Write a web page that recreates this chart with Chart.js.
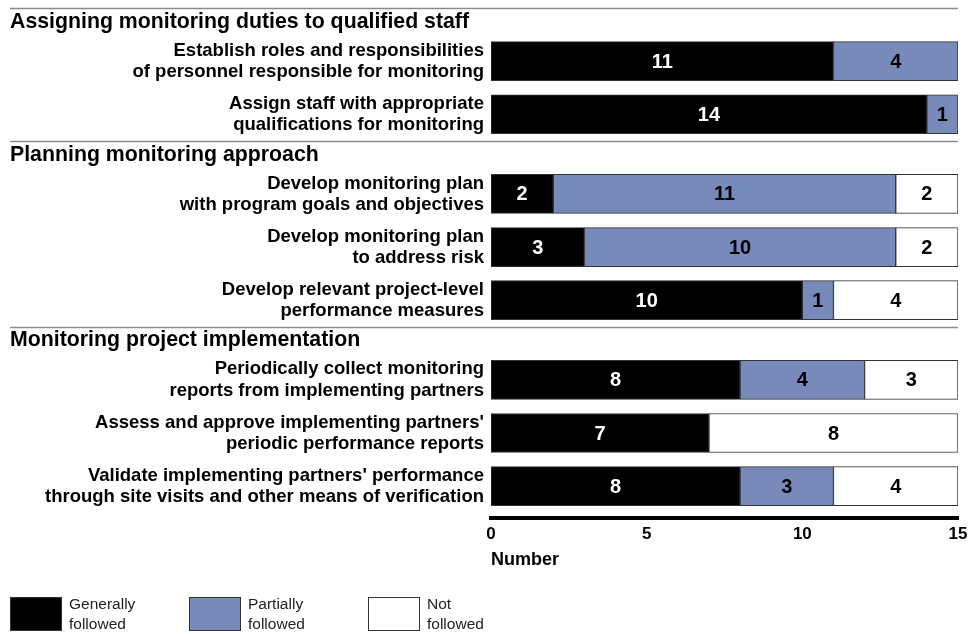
<!DOCTYPE html>
<html>
<head>
<meta charset="utf-8">
<script src="https://cdn.jsdelivr.net/npm/chart.js@4/dist/chart.umd.min.js"></script>
<style>
  html, body { margin: 0; padding: 0; background: #fff; }
  #wrap { width: 969px; height: 634px; position: relative; }
</style>
</head>
<body>
<div id="wrap"><canvas id="chart"></canvas></div>
<script>
// group headings
const groups = [
    'Assigning monitoring duties to qualified staff',
    'Planning monitoring approach',
    'Monitoring project implementation'
];

// each practice, as two label lines, and the group it belongs to
const categories = [
    ['Establish roles and responsibilities', 'of personnel responsible for monitoring'],
    ['Assign staff with appropriate', 'qualifications for monitoring'],
    ['Develop monitoring plan', 'with program goals and objectives'],
    ['Develop monitoring plan', 'to address risk'],
    ['Develop relevant project-level', 'performance measures'],
    ['Periodically collect monitoring', 'reports from implementing partners'],
    ['Assess and approve implementing partners\'', 'periodic performance reports'],
    ['Validate implementing partners\' performance', 'through site visits and other means of verification']
];
const categoryGroup = [0, 0, 1, 1, 1, 2, 2, 2];

const generallyFollowed = [11, 14, 2, 3, 10, 8, 7, 8];
const partiallyFollowed = [4, 1, 11, 10, 1, 4, 0, 3];
const notFollowed = [0, 0, 2, 2, 4, 3, 8, 4];

const xTicks = [0, 5, 10, 15];
const legendText = [['Generally', 'followed'], ['Partially', 'followed'], ['Not', 'followed']];

// row positions on the y scale: one step per row, a larger step where a new group starts
const rowPos = [];
categoryGroup.forEach((g, i) => {
    if (i === 0) rowPos.push(0);
    else rowPos.push(rowPos[i - 1] + (g !== categoryGroup[i - 1] ? 1.5 : 1));
});

function toPoints(values) {
    return values.map((v, i) => ({ x: v, y: rowPos[i] }));
}

const FONT = '"Liberation Sans", Arial, sans-serif';

// draws group headings, separators and the two-line row labels
const sideLabels = {
    id: 'sideLabels',
    afterDraw(chart) {
        const ctx = chart.ctx;
        const y = chart.scales.y;
        const area = chart.chartArea;
        ctx.save();
        groups.forEach((g, gi) => {
            const first = categoryGroup.indexOf(gi);
            const sepY = Math.round(y.getPixelForValue(rowPos[first] - 1)) + 0.5;
            ctx.strokeStyle = '#8a8a8a';
            ctx.lineWidth = 1.5;
            ctx.beginPath();
            ctx.moveTo(10, sepY);
            ctx.lineTo(area.right, sepY);
            ctx.stroke();
            ctx.fillStyle = '#000';
            ctx.font = 'bold 21.3px ' + FONT;
            ctx.textAlign = 'left';
            ctx.textBaseline = 'middle';
            ctx.fillText(g, 10, y.getPixelForValue(rowPos[first] - 0.74));
        });
        ctx.font = 'bold 18.5px ' + FONT;
        ctx.textAlign = 'right';
        categories.forEach((lines, i) => {
            const cy = y.getPixelForValue(rowPos[i]);
            ctx.fillText(lines[0], area.left - 7, cy - 10.5);
            ctx.fillText(lines[1], area.left - 7, cy + 11);
        });
        ctx.restore();
    }
};

// numbers in the middle of each segment
const barValues = {
    id: 'barValues',
    afterDatasetsDraw(chart) {
        const ctx = chart.ctx;
        ctx.save();
        ctx.font = 'bold 20px ' + FONT;
        ctx.textAlign = 'center';
        ctx.textBaseline = 'middle';
        chart.data.datasets.forEach((ds, di) => {
            const meta = chart.getDatasetMeta(di);
            meta.data.forEach((bar, i) => {
                const v = ds.data[i].x;
                if (!v) return;
                const p = bar.getProps(['x', 'y', 'base']);
                ctx.fillStyle = ds.valueColor;
                ctx.fillText(v, (p.x + p.base) / 2, p.y + 1);
            });
        });
        ctx.restore();
    }
};

// two-line legend under the chart
const legendBoxes = {
    id: 'legendBoxes',
    afterDraw(chart) {
        const ctx = chart.ctx;
        ctx.save();
        chart.data.datasets.forEach((ds, i) => {
            const x = 10 + i * 179;
            ctx.fillStyle = ds.backgroundColor;
            ctx.fillRect(x, 597, 52, 34);
            ctx.strokeStyle = '#333';
            ctx.lineWidth = 1;
            ctx.strokeRect(x + 0.5, 597.5, 51, 33);
            ctx.fillStyle = '#222';
            ctx.font = '15.5px ' + FONT;
            ctx.textAlign = 'left';
            ctx.textBaseline = 'middle';
            ctx.fillText(legendText[i][0], x + 59, 605);
            ctx.fillText(legendText[i][1], x + 59, 625);
        });
        ctx.restore();
    }
};

new Chart(document.getElementById('chart'), {
    type: 'bar',
    data: {
        datasets: [
            {
                label: 'Generally followed',
                data: toPoints(generallyFollowed),
                backgroundColor: '#000000',
                borderColor: '#333333',
                valueColor: '#ffffff'
            },
            {
                label: 'Partially followed',
                data: toPoints(partiallyFollowed),
                backgroundColor: '#788ABA',
                borderColor: '#333333',
                valueColor: '#000000'
            },
            {
                label: 'Not followed',
                data: toPoints(notFollowed),
                backgroundColor: '#ffffff',
                borderColor: '#333333',
                valueColor: '#000000'
            }
        ]
    },
    options: {
        indexAxis: 'y',
        responsive: true,
        maintainAspectRatio: false,
        animation: false,
        datasets: {
            bar: { barThickness: 39, borderWidth: 1, borderSkipped: false }
        },
        layout: { padding: { left: 491, right: 11, top: 8, bottom: 0 } },
        plugins: {
            legend: { display: false },
            tooltip: { enabled: false }
        },
        scales: {
            x: {
                type: 'linear',
                stacked: true,
                min: 0,
                max: 15,
                afterBuildTicks: scale => { scale.ticks = xTicks.map(v => ({ value: v })); },
                afterFit: scale => {
                    scale.height = 116;
                    scale.paddingLeft = 0;
                    scale.paddingRight = 0;
                },
                grid: { display: false, drawTicks: false },
                border: { display: true, color: '#000', width: 4 },
                ticks: {
                    color: '#000',
                    padding: 6,
                    font: { family: FONT, size: 17, weight: 'bold' }
                },
                title: {
                    display: true,
                    text: 'Number',
                    align: 'start',
                    color: '#000',
                    font: { family: FONT, size: 18, weight: 'bold' },
                    padding: { top: 0, bottom: 63 }
                }
            },
            y: {
                type: 'linear',
                stacked: true,
                reverse: true,
                offset: false,
                min: -1,
                max: 8.6,
                display: false
            }
        }
    },
    plugins: [sideLabels, barValues, legendBoxes]
});
</script>
</body>
</html>
